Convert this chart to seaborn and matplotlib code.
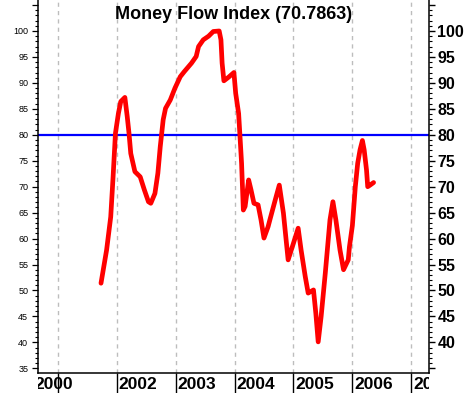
import matplotlib
matplotlib.use("Agg")
import matplotlib.pyplot as plt
import matplotlib.transforms as mtransforms
from matplotlib.ticker import MultipleLocator, FixedLocator
import seaborn as sns

# Money Flow Index readings (decimal year, value)
years = [2001.735, 2001.83, 2001.90, 2001.94, 2001.98, 2002.03, 2002.07, 2002.14,
         2002.18, 2002.21, 2002.24, 2002.31, 2002.40, 2002.47, 2002.54, 2002.58,
         2002.65, 2002.70, 2002.74, 2002.79, 2002.83, 2002.91, 2002.99, 2003.08,
         2003.15, 2003.27, 2003.35, 2003.39, 2003.47, 2003.56, 2003.64, 2003.74,
         2003.77, 2003.79, 2003.82, 2003.90, 2003.99, 2004.02, 2004.07, 2004.09,
         2004.12, 2004.15, 2004.18, 2004.24, 2004.28, 2004.33, 2004.40, 2004.45,
         2004.50, 2004.57, 2004.60, 2004.69, 2004.76, 2004.83, 2004.91, 2005.00,
         2005.08, 2005.13, 2005.20, 2005.25, 2005.34, 2005.38, 2005.42, 2005.47,
         2005.54, 2005.62, 2005.67, 2005.72, 2005.79, 2005.85, 2005.93, 2005.95,
         2006.00, 2006.05, 2006.09, 2006.13, 2006.17, 2006.20, 2006.24, 2006.26,
         2006.30, 2006.36]
mfi = [51.4, 57.8, 64.2, 71.9, 80.3, 84.1, 86.4, 87.2,
       83.5, 80.3, 76.4, 72.9, 71.9, 69.4, 67.1, 66.8,
       68.7, 72.6, 77.7, 82.9, 85.1, 86.7, 89.0, 91.2,
       92.2, 93.8, 95.1, 97.0, 98.3, 99.0, 99.9, 100.0,
       98.3, 93.8, 90.4, 91.1, 92.0, 88.0, 84.1, 80.3,
       74.5, 65.5, 66.2, 71.3, 69.4, 66.8, 66.5, 63.6,
       60.1, 62.3, 63.6, 67.4, 70.3, 64.9, 55.9, 59.1,
       62.0, 57.8, 52.7, 49.5, 50.1, 45.6, 40.1, 45.0,
       53.3, 63.6, 67.1, 63.6, 57.8, 54.0, 55.9, 58.4,
       62.5, 70.0, 74.5, 77.1, 78.9, 77.1, 73.2, 70.0,
       70.3, 70.8]
last_value = "70.7863"
level = 80
grid_years = [2001, 2002, 2003, 2004, 2005, 2006, 2007]
year_labels = ["2000", "2002", "2003", "2004", "2005", "2006", "2007"]
label_pos = [2000.598, 2002.03, 2003.03, 2004.03, 2005.03, 2006.03, 2007.03]

sns.set_style("white")
plt.rcParams["font.family"] = ["Liberation Sans", "DejaVu Sans"]
plt.rcParams["text.color"] = "black"
plt.rcParams["xtick.color"] = "black"
plt.rcParams["ytick.color"] = "black"
plt.rcParams["axes.labelcolor"] = "black"

W, H = 467, 393
fig = plt.figure(figsize=(W / 100, H / 100), dpi=100)
ax = fig.add_axes([38 / W, 20 / H, (429 - 38) / W, 373 / H])

for gx in grid_years:
    ax.axvline(gx, color="#bdbdbd", lw=1, ls=(0, (3, 3)), zorder=0)
ax.axhline(level, color="#0000ff", lw=1.6, zorder=1)
sns.lineplot(x=years, y=mfi, ax=ax, color="#ff0000", lw=3.4, sort=False, zorder=2)

ax.set_xlim(2000.666, 2007.30)
ax.set_ylim(34.1, 105.97)

# spines
ax.spines["top"].set_visible(False)
for s in ["left", "right", "bottom"]:
    ax.spines[s].set_color("black")
    ax.spines[s].set_linewidth(1.1)

# x ticks: long marks, labels placed separately and clipped to plot width
ax.xaxis.set_major_locator(FixedLocator(grid_years))
ax.set_xticklabels([])
ax.tick_params(axis="x", direction="out", length=14.5, width=1, color="black", bottom=True)

# left y axis
ax.yaxis.set_minor_locator(MultipleLocator(1))
ax.set_yticks(range(35, 106, 5))
ax.set_yticklabels([str(v) if v <= 100 else "" for v in range(35, 106, 5)])
ax.tick_params(axis="y", which="major", left=True, length=4, width=0.9, pad=3,
               labelsize=6.5, labelcolor="black")
ax.tick_params(axis="y", which="minor", left=True, length=2.2, width=0.8)

# right y axis
ax2 = ax.twinx()
ax2.set_ylim(ax.get_ylim())
ax2.set_yticks(range(35, 106, 5))
ax2.set_yticklabels([str(v) if 40 <= v <= 100 else "" for v in range(35, 106, 5)],
                    fontweight="bold", fontsize=11.5, color="black")
ax2.yaxis.set_minor_locator(MultipleLocator(1))
ax2.tick_params(axis="y", which="major", right=True, length=4.5, width=1, pad=1.5)
ax2.tick_params(axis="y", which="minor", right=True, length=2.2, width=0.8)
for s in ax2.spines.values():
    s.set_visible(False)

clip = mtransforms.TransformedBbox(mtransforms.Bbox([[38 / W, 0], [429 / W, 1]]), fig.transFigure)
trans = mtransforms.blended_transform_factory(ax.transData, fig.transFigure)
for xp, lab in zip(label_pos, year_labels):
    t = ax.text(xp, 4 / H, lab, transform=trans, ha="left", va="baseline",
                fontsize=12.5, fontweight="bold", color="black", clip_on=True)
    t.set_clip_box(clip)
    t.set_clip_path(None)

ax.text(0.5, 1 - 19 / 373, f"Money Flow Index ({last_value})", transform=ax.transAxes,
        ha="center", va="baseline", fontsize=13, fontweight="bold", color="black")

fig.savefig("out.png", dpi=100)
